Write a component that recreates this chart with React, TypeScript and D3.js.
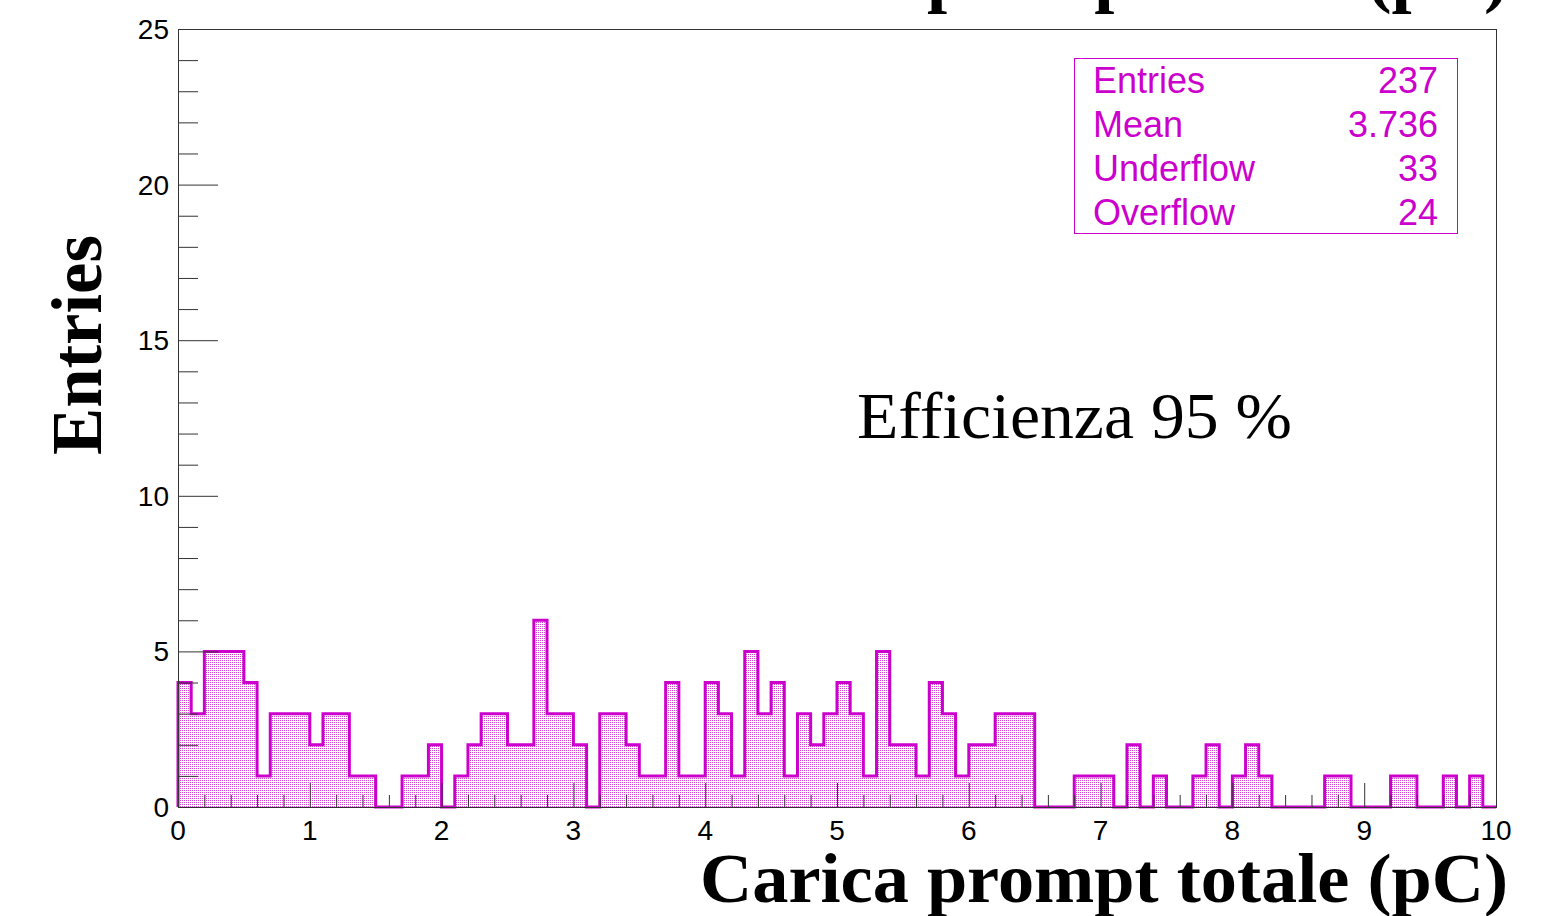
import React from "react";
import * as d3 from "d3";

// Histogram: 100 bins between 0 and 10 pC
const rangeMin = 0;
const rangeMax = 10;
const binCounts = [
  4, 3, 5, 5, 5, 4, 1, 3, 3, 3, 2, 3, 3, 1, 1, 0, 0, 1, 1, 2,
  0, 1, 2, 3, 3, 2, 2, 6, 3, 3, 2, 0, 3, 3, 2, 1, 1, 4, 1, 1,
  4, 3, 1, 5, 3, 4, 1, 3, 2, 3, 4, 3, 1, 5, 2, 2, 1, 4, 3, 1,
  2, 2, 3, 3, 3, 0, 0, 0, 1, 1, 1, 0, 2, 0, 1, 0, 0, 1, 2, 0,
  1, 2, 1, 0, 0, 0, 0, 1, 1, 0, 0, 0, 1, 1, 0, 0, 1, 0, 1, 0,
];

const xMajorTicks = [0, 1, 2, 3, 4, 5, 6, 7, 8, 9, 10];
const yMajorTicks = [0, 5, 10, 15, 20, 25];
const yMax = 25;

const statsLabels = ["Entries", "Mean", "Underflow", "Overflow"];
const statsValues = ["237", "3.736", "33", "24"];

const xTitle = "Carica prompt totale (pC)";
const yTitle = "Entries";
const histTitle = "Carica prompt totale (pC)";
const note = "Efficienza 95 %";

const W = 1542;
const H = 916;
const frame = { left: 178, right: 1496, top: 29, bottom: 807 };
const magenta = "#cc00cc";
const axisColor = "#333";

export default function App() {
  const x = d3.scaleLinear().domain([rangeMin, rangeMax]).range([frame.left, frame.right]);
  const y = d3.scaleLinear().domain([0, yMax]).range([frame.bottom, frame.top]);

  const binWidth = (rangeMax - rangeMin) / binCounts.length;
  const pts: [number, number][] = [[rangeMin, 0]];
  binCounts.forEach((c, i) => pts.push([rangeMin + i * binWidth, c]));
  pts.push([rangeMax, binCounts[binCounts.length - 1]]);
  pts.push([rangeMax, 0]);

  const line = d3
    .line<[number, number]>()
    .x((d) => x(d[0]))
    .y((d) => y(d[1]))
    .curve(d3.curveStepAfter);
  const histPath = line(pts) || "";

  const xMinor = d3.range(rangeMin, rangeMax + 1e-9, 0.2).filter(
    (v) => Math.abs(v - Math.round(v)) > 1e-6
  );
  const yMinor = d3.range(0, yMax + 1e-9, 1).filter((v) => v % 5 !== 0);

  const sans = "'Liberation Sans', Arial, sans-serif";
  const serif = "'Liberation Serif', 'Times New Roman', serif";

  return (
    <svg
      width={W}
      height={H}
      viewBox={`0 0 ${W} ${H}`}
      style={{ position: "absolute", left: 0, top: 0, background: "#fff" }}
    >
      <defs>
        <pattern id="dotFill" width={2} height={2} patternUnits="userSpaceOnUse">
          <rect x={0} y={0} width={2} height={2} fill="#fff" />
          <rect x={0} y={0} width={1} height={1} fill={magenta} fillOpacity={0.75} />
        </pattern>
      </defs>

      <rect x={0} y={0} width={W} height={H} fill="#fff" />

      {/* histogram title, running off the top edge */}
      <text
        x={1508}
        y={-1}
        textAnchor="end"
        fontFamily={serif}
        fontWeight="bold"
        fontSize={72}
        textLength={808}
        lengthAdjust="spacingAndGlyphs"
        fill="#000"
      >
        {histTitle}
      </text>

      {/* histogram */}
      <path d={histPath + "Z"} fill="url(#dotFill)" stroke="none" shapeRendering="crispEdges" />
      <path d={histPath} fill="none" stroke={magenta} strokeWidth={3} strokeLinejoin="miter" />

      {/* frame */}
      <rect
        x={frame.left + 0.5}
        y={frame.top + 0.5}
        width={frame.right - frame.left}
        height={frame.bottom - frame.top}
        fill="none"
        stroke={axisColor}
        strokeWidth={1}
      />

      {/* y axis ticks */}
      {yMajorTicks.map((v) => (
        <g key={"ym" + v}>
          <line x1={frame.left} x2={frame.left + 40} y1={y(v) + 0.5} y2={y(v) + 0.5} stroke={axisColor} />
          <text
            x={169}
            y={y(v) + 10}
            textAnchor="end"
            fontFamily={sans}
            fontSize={28}
            fill="#000"
          >
            {v}
          </text>
        </g>
      ))}
      {yMinor.map((v) => (
        <line key={"yn" + v} x1={frame.left} x2={frame.left + 20} y1={y(v) + 0.5} y2={y(v) + 0.5} stroke={axisColor} />
      ))}

      {/* x axis ticks */}
      {xMajorTicks.map((v) => (
        <g key={"xm" + v}>
          <line x1={x(v) + 0.5} x2={x(v) + 0.5} y1={frame.bottom} y2={frame.bottom - 24} stroke={axisColor} />
          <text
            x={x(v)}
            y={840}
            textAnchor="middle"
            fontFamily={sans}
            fontSize={28}
            fill="#000"
          >
            {v}
          </text>
        </g>
      ))}
      {xMinor.map((v) => (
        <line key={"xn" + v} x1={x(v) + 0.5} x2={x(v) + 0.5} y1={frame.bottom} y2={frame.bottom - 12} stroke={axisColor} />
      ))}

      {/* axis titles */}
      <text
        x={1508}
        y={902}
        textAnchor="end"
        fontFamily={serif}
        fontWeight="bold"
        fontSize={70}
        textLength={808}
        lengthAdjust="spacingAndGlyphs"
        fill="#000"
      >
        {xTitle}
      </text>
      <text
        transform={`translate(101, 455) rotate(-90)`}
        x={0}
        y={0}
        textAnchor="start"
        fontFamily={serif}
        fontWeight="bold"
        fontSize={72}
        textLength={220}
        lengthAdjust="spacingAndGlyphs"
        fill="#000"
      >
        {yTitle}
      </text>

      {/* annotation */}
      <text
        x={857}
        y={438}
        fontFamily={serif}
        fontSize={66}
        textLength={435}
        lengthAdjust="spacingAndGlyphs"
        fill="#000"
      >
        {note}
      </text>

      {/* statistics box */}
      <rect x={1074.5} y={58.5} width={383} height={175} fill="#fff" stroke={magenta} strokeWidth={1} />
      {statsLabels.map((lab, i) => (
        <g key={lab}>
          <text x={1093} y={93 + i * 44} fontFamily={sans} fontSize={36} fill={magenta}>
            {lab}
          </text>
          <text x={1438} y={93 + i * 44} textAnchor="end" fontFamily={sans} fontSize={36} fill={magenta}>
            {statsValues[i]}
          </text>
        </g>
      ))}
    </svg>
  );
}
